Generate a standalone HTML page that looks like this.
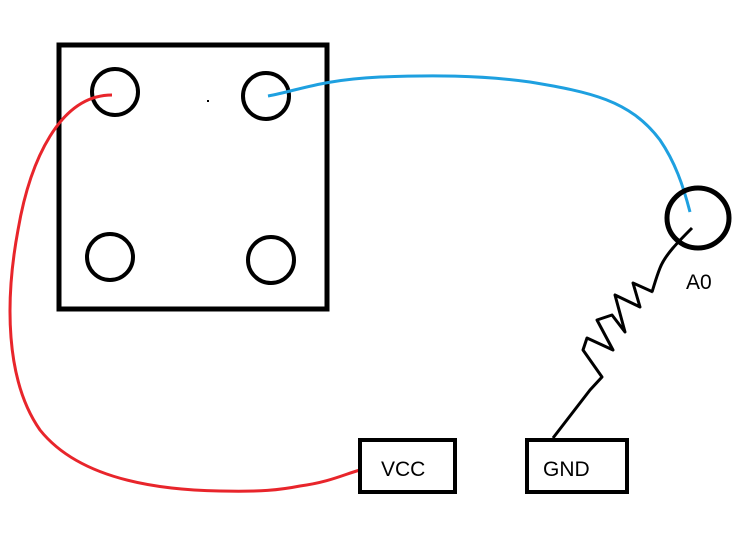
<!DOCTYPE html>
<html><head><meta charset="utf-8"><style>
html,body{margin:0;padding:0;background:#fff;width:743px;height:549px;overflow:hidden}
svg{display:block}
text{font-family:"Liberation Sans",sans-serif;font-size:21px;fill:#000}
</style></head><body>
<svg width="743" height="549" viewBox="0 0 743 549">
<rect x="59" y="45" width="268" height="264" fill="none" stroke="#000" stroke-width="5"/>
<circle cx="115" cy="92" r="23" fill="none" stroke="#000" stroke-width="4"/>
<circle cx="266" cy="96" r="23" fill="none" stroke="#000" stroke-width="4"/>
<circle cx="110" cy="257" r="23" fill="none" stroke="#000" stroke-width="4"/>
<circle cx="271" cy="260" r="23" fill="none" stroke="#000" stroke-width="4"/>
<rect x="207" y="100" width="2" height="2" fill="#000"/>
<path d="M112,95 C60,95 30,160 18,230 C5,300 5,380 40,430 C80,480 160,490 220,491 C260,492 280,490 300,486 C330,482 345,474 360,470" fill="none" stroke="#e8252b" stroke-width="3"/>
<path d="M268,96 C300,90 320,80 380,77 C430,75 480,75 530,82 C590,92 630,100 660,140 C675,162 683,185 690,212" fill="none" stroke="#1ea0e0" stroke-width="3"/>
<ellipse cx="698" cy="218" rx="31" ry="30" fill="none" stroke="#000" stroke-width="5"/>
<text x="686" y="289">A0</text>
<path d="M692,228 C678,242 665,255 660,268 C656,278 654,286 652,292" fill="none" stroke="#000" stroke-width="3"/>
<polyline points="653,292 633,283 640,307 615,295 625,332 612,315 597,320 613,350 587,338 583,350 602,377 590,390 553,438" fill="none" stroke="#000" stroke-width="3" stroke-linejoin="round"/>
<rect x="360" y="440" width="95" height="52" fill="none" stroke="#000" stroke-width="4"/>
<text x="381" y="476">VCC</text>
<rect x="527" y="440" width="100" height="52" fill="none" stroke="#000" stroke-width="4"/>
<text x="543" y="476">GND</text>
</svg>
</body></html>
